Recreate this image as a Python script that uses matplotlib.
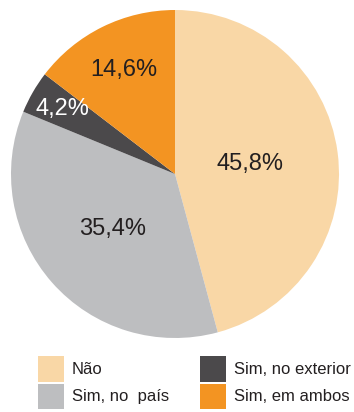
import numpy as np
import matplotlib.pyplot as plt

plt.rcParams['font.family'] = ['Liberation Sans', 'DejaVu Sans']

categorias = ['Não', 'Sim, no  país', 'Sim, no exterior', 'Sim, em ambos']
valores = [45.8, 35.4, 4.2, 14.6]
rotulos = ['45,8%', '35,4%', '4,2%', '14,6%']

cores = ['#F9D7A6', '#BDBEC0', '#4B494B', '#F39422']
cor_texto = ['#231F20', '#231F20', '#FFFFFF', '#231F20']
dist_rotulo = [0.46, 0.51, 0.79, 0.71]

fig = plt.figure(figsize=(3.54, 4.12), dpi=100)
W, H = 354, 412
cx, cy, r = 175, 174, 164
ax = fig.add_axes([(cx - r) / W, (H - cy - r) / H, 2 * r / W, 2 * r / H])

wedges, _ = ax.pie(valores, colors=cores, startangle=90, counterclock=False,
                   radius=1, wedgeprops=dict(linewidth=0))
ax.set_xlim(-1, 1)
ax.set_ylim(-1, 1)
ax.set_aspect('equal')
ax.axis('off')

for w, txt, d, c in zip(wedges, rotulos, dist_rotulo, cor_texto):
    ang = np.deg2rad((w.theta1 + w.theta2) / 2)
    ax.text(d * np.cos(ang), d * np.sin(ang), txt, ha='center', va='center',
            fontsize=17, color=c)

fig.legend(wedges, categorias, ncol=2, loc='upper left',
           bbox_to_anchor=(25 / W, 1 - 343 / H), frameon=False,
           fontsize=12, handlelength=1.55, handleheight=1.95,
           handletextpad=0.45, columnspacing=1.9, labelspacing=0.12,
           borderpad=0.3, labelcolor='#231F20')

fig.savefig('out.png', dpi=100)
